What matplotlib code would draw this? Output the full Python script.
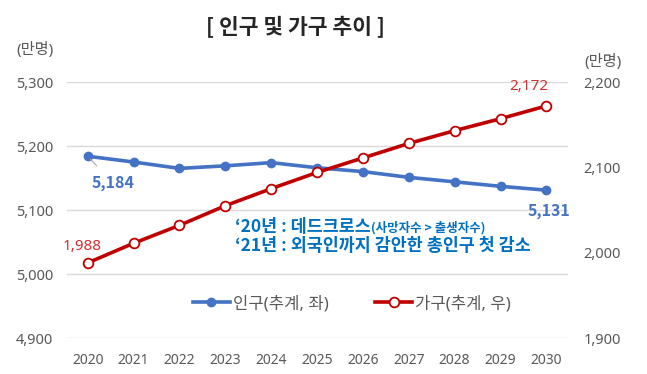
import matplotlib
matplotlib.use("Agg")
import matplotlib.pyplot as plt
from matplotlib.ticker import FuncFormatter

# 숫자는 Noto Sans, 한글은 Noto Sans CJK KR 로
plt.rcParams['font.family'] = ['Noto Sans', 'Noto Sans CJK KR', 'DejaVu Sans']
굵은글꼴 = ['Noto Sans CJK KR', 'DejaVu Sans']  # Noto Sans 에는 굵은체가 없음

# 데이터
연도 = [2020, 2021, 2022, 2023, 2024, 2025, 2026, 2027, 2028, 2029, 2030]
인구 = [5184, 5175, 5165, 5169, 5174, 5166, 5160, 5151, 5144, 5137, 5131]
가구 = [1988, 2011, 2032, 2055, 2075, 2094, 2111, 2128, 2143, 2157, 2172]
왼쪽_눈금 = [4900, 5000, 5100, 5200, 5300]
오른쪽_눈금 = [1900, 2000, 2100, 2200]

파랑 = '#4472C4'
빨강 = '#C00000'
회색 = '#595959'
글파랑 = '#0070C0'

W, H = 647, 374
fig = plt.figure(figsize=(W / 100, H / 100), dpi=100)
ax = fig.add_axes([67 / W, (H - 338) / H, (568 - 67) / W, (338 - 82) / H])
ax2 = ax.twinx()

x = list(range(len(연도)))
ax.plot(x, 인구, color=파랑, lw=2.6, marker='o', ms=6, mfc=파랑, mec=파랑,
        label='인구(추계, 좌)', zorder=3)
ax2.plot(x, 가구, color=빨강, lw=2.6, marker='o', ms=7, mfc='white', mec=빨강,
         mew=1.3, label='가구(추계, 우)', zorder=3)

ax.set_xlim(-0.45, 10.47)
ax.set_ylim(4900, 5300)
ax2.set_ylim(1900, 2200)
ax.set_yticks(왼쪽_눈금)
ax2.set_yticks(오른쪽_눈금)
ax.set_xticks(x)
ax.set_xticklabels([str(y) for y in 연도])

콤마 = FuncFormatter(lambda v, p: f"{int(v):,}")
ax.yaxis.set_major_formatter(콤마)
ax2.yaxis.set_major_formatter(콤마)

ax.grid(axis='y', color='#D9D9D9', lw=1)
ax.set_axisbelow(True)
for a in (ax, ax2):
    for s in a.spines.values():
        s.set_visible(False)
ax.tick_params(axis='both', length=0, labelsize=10.5, labelcolor=회색)
ax.tick_params(axis='x', pad=11, labelsize=10)
ax.tick_params(axis='y', pad=10)
ax2.tick_params(axis='y', length=0, labelsize=10.5, labelcolor=회색, pad=11)

# 데이터 레이블
ax.annotate(f"{인구[0]:,}", (x[0], 인구[0]), xytext=(18, -19), textcoords='offset points',
            ha='center', va='center', color=파랑, fontsize=11.5, fontweight='bold',
            family=굵은글꼴,
            arrowprops=dict(arrowstyle='-', color='#A6A6A6', lw=0.8, shrinkA=6, shrinkB=3))
ax.annotate(f"{인구[-1]:,}", (x[-1], 인구[-1]), xytext=(1.5, -15), textcoords='offset points',
            ha='center', va='center', color=파랑, fontsize=11.5, fontweight='bold',
            family=굵은글꼴)
ax2.annotate(f"{가구[0]:,}", (x[0], 가구[0]), xytext=(-4, 11.5), textcoords='offset points',
             ha='center', va='center', color='#D03030', fontsize=11)
ax2.annotate(f"{가구[-1]:,}", (x[-1], 가구[-1]), xytext=(-13, 14), textcoords='offset points',
             ha='center', va='center', color='#D03030', fontsize=11)

# 제목과 단위
fig.text(295 / W, (H - 27) / H, '[ 인구 및 가구 추이 ]', ha='center', va='center',
         fontsize=15.5, fontweight='bold', family=굵은글꼴, color='#262626')
fig.text(35 / W, (H - 50) / H, '(만명)', ha='center', va='center', fontsize=11, color=회색)
fig.text(603 / W, (H - 62) / H, '(만명)', ha='center', va='center', fontsize=11, color=회색)

# 설명 문구
t1 = fig.text(235 / W, (H - 227) / H, '‘20년 : 데드크로스', ha='left', va='center',
              fontsize=12.5, fontweight='bold', family=굵은글꼴, color=글파랑)
fig.text(235 / W, (H - 246) / H, '‘21년 : 외국인까지 감안한 총인구 첫 감소', ha='left',
         va='center', fontsize=12.5, fontweight='bold', family=굵은글꼴, color=글파랑)
fig.canvas.draw()
bb = t1.get_window_extent()
fig.text(bb.x1 / W, (H - 228) / H, '(사망자수 > 출생자수)', ha='left', va='center',
         fontsize=9, fontweight='bold', family=굵은글꼴, color=글파랑)

# 범례
h1, l1 = ax.get_legend_handles_labels()
h2, l2 = ax2.get_legend_handles_labels()
fig.legend(h1 + h2, l1 + l2, loc='center', bbox_to_anchor=(352 / W, (H - 304) / H),
           ncol=2, frameon=False, fontsize=12, labelcolor=회색, handlelength=2.2,
           handletextpad=0.2, columnspacing=2.8)

fig.savefig('out.png', dpi=100)
